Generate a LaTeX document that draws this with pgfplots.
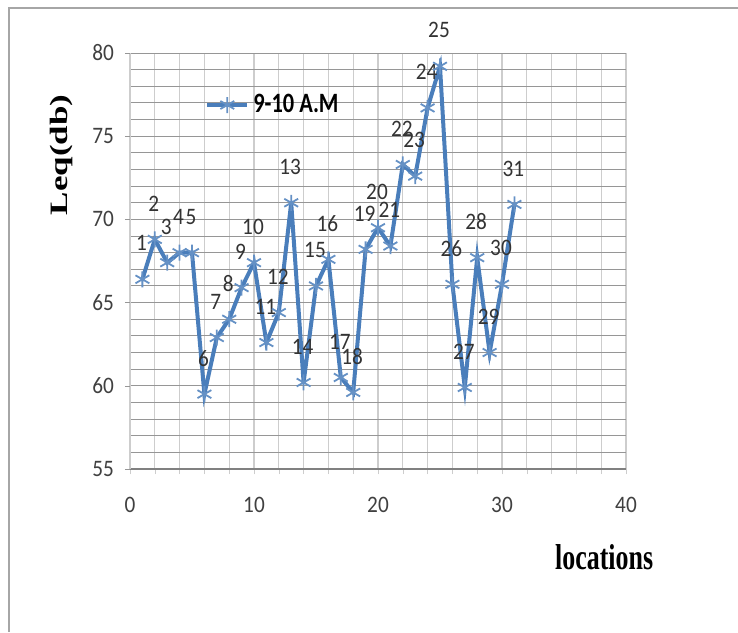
\documentclass[border=0pt]{standalone}
\usepackage{pgfplots}
\pgfplotsset{compat=1.18}
\usepackage{fontspec}
\setmainfont{Carlito}
\newfontfamily\labfont[FakeStretch=0.9]{Carlito}
\newfontfamily\legfont[FakeStretch=0.8]{Carlito}
\newfontfamily\xlabfont[FakeStretch=0.72]{Liberation Serif}
\newfontfamily\ylabfont[FakeStretch=1.4]{Liberation Serif}
\definecolor{xlblue}{RGB}{74,126,187}
\definecolor{gridh}{RGB}{150,150,150}
\definecolor{gridv}{RGB}{205,205,205}
\definecolor{ticktxt}{RGB}{64,64,64}
\pgfkeys{/pgf/number format/assume math mode=true}
\begin{document}
\begin{tikzpicture}
% page = 738x632 px at 0.5pt per px, plot area lower left at (0,0)
\useasboundingbox (-65pt,-81.5pt) rectangle (304pt,234.5pt);
\draw[gray!70, line width=1pt] (-60.5pt,-81.5pt) -- (-60.5pt,230.5pt) -- (304pt,230.5pt);
\begin{axis}[
    at={(0,0)}, anchor=south west,
    scale only axis,
    width=248pt, height=208pt,
    xmin=0, xmax=40, ymin=55, ymax=80,
    xtick={0,10,...,40},
    minor xtick={0,2,...,40},
    ytick={55,60,...,80},
    minor ytick={55,56,...,80},
    grid=both,
    x grid style={draw=gridv, line width=0.6pt},
    y grid style={draw=gridh, line width=0.5pt},
    minor x grid style={draw=gridv, line width=0.6pt},
    minor y grid style={draw=gridh, line width=0.5pt},
    axis lines=left,
    x axis line style={-, draw=gray, line width=0.8pt},
    y axis line style={-, draw=gridv},
    tick align=outside,
    major tick length=2.5pt,
    minor tick length=2.5pt,
    xtick style={draw=gridv},
    ytick style={draw=gridh},
    minor y tick style={draw=none},
    /pgf/number format/assume math mode=true,
    tick label style={font=\labfont\fontsize{11.8}{12}\selectfont, text=ticktxt},
    xticklabel style={yshift=-8pt},
    yticklabel style={xshift=-2pt},
    xlabel={locations},
    ylabel={Leq(db)},
    xlabel style={font=\xlabfont\bfseries\fontsize{18}{18}\selectfont,
        at={(rel axis cs:0.956,-0.2115)}, anchor=center},
    ylabel style={font=\ylabfont\bfseries\fontsize{12.5}{12.5}\selectfont,
        at={(rel axis cs:-0.139,0.755)}, anchor=center},
    legend style={draw=none, fill=none,
        at={(rel axis cs:0.151,0.875)}, anchor=west,
        font=\legfont\bfseries\fontsize{14}{14}\selectfont,
        inner sep=0pt},
    legend image code/.code={
        \draw[mark repeat=2, mark phase=2, #1]
            plot coordinates {(0pt,0pt) (10pt,0pt) (20pt,0pt)};},
    legend cell align=left,
    clip=false,
]
\addplot[xlblue, line width=2pt, mark=asterisk, mark size=4pt,
    mark options={line width=0.9pt, xlblue!85!white},
    point meta=x,
    nodes near coords={\pgfmathprintnumber[int detect,assume math mode=true]{\pgfplotspointmeta}},
    nodes near coords style={font=\labfont\fontsize{11.8}{12}\selectfont,
        text=black!80, anchor=center, yshift=18pt, xshift=-0.5pt},
] coordinates {
    (1,66.4) (2,68.8) (3,67.4) (4,68.0) (5,68.0)
    (6,59.5) (7,62.9) (8,64.0) (9,65.9) (10,67.4)
    (11,62.6) (12,64.4) (13,71.0) (14,60.2) (15,66.0)
    (16,67.6) (17,60.5) (18,59.6) (19,68.2) (20,69.5)
    (21,68.4) (22,73.3) (23,72.6) (24,76.7) (25,79.2)
    (26,66.1) (27,59.9) (28,67.7) (29,62.0) (30,66.1)
    (31,70.9)
};
\addlegendentry{9-10 A.M}
\end{axis}
\end{tikzpicture}
\end{document}
